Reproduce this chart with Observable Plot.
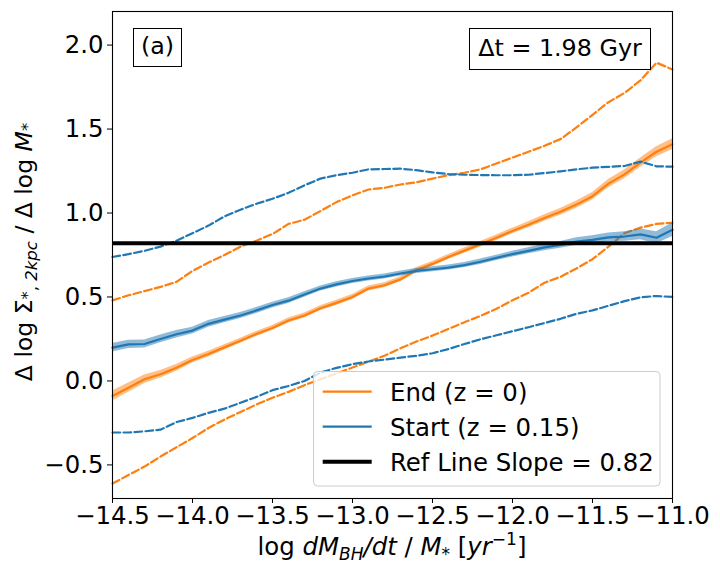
<!DOCTYPE html>
<html>
<head>
<meta charset="utf-8">
<script src="https://cdn.jsdelivr.net/npm/d3@7"></script>
<script src="https://cdn.jsdelivr.net/npm/@observablehq/plot@0.6"></script>
<style>
  html, body { margin: 0; padding: 0; background: #fff; }
  #chart { width: 720px; height: 576px; }
</style>
</head>
<body>
<div id="chart"></div>
<script>
// ---- data ----
const logRate = [-14.5, -14.4, -14.3, -14.2, -14.1, -14.0, -13.9, -13.8, -13.7, -13.6,
                 -13.5, -13.4, -13.3, -13.2, -13.1, -13.0, -12.9, -12.8, -12.7, -12.6,
                 -12.5, -12.4, -12.3, -12.2, -12.1, -12.0, -11.9, -11.8, -11.7, -11.6,
                 -11.5, -11.4, -11.3, -11.2, -11.1, -11.0];

// End (z = 0): median, half-width of shaded band, lower & upper dashed
const endMedian = [-0.09, -0.04, 0.01, 0.04, 0.078, 0.125, 0.16, 0.20, 0.24, 0.28,
                   0.315, 0.36, 0.39, 0.433, 0.465, 0.50, 0.55, 0.57, 0.605, 0.66,
                   0.697, 0.738, 0.776, 0.814, 0.853, 0.893, 0.93, 0.97, 1.007, 1.05,
                   1.10, 1.175, 1.23, 1.30, 1.365, 1.41];
const endErr = [0.03, 0.028, 0.025, 0.022, 0.02, 0.018, 0.017, 0.016, 0.015, 0.015,
                0.015, 0.015, 0.015, 0.015, 0.015, 0.015, 0.015, 0.015, 0.015, 0.015,
                0.015, 0.015, 0.015, 0.016, 0.016, 0.017, 0.018, 0.019, 0.02, 0.021,
                0.022, 0.024, 0.026, 0.028, 0.03, 0.032];
const endLow = [-0.611, -0.56, -0.51, -0.45, -0.395, -0.34, -0.28, -0.23, -0.185, -0.14,
                -0.10, -0.065, -0.025, 0.01, 0.045, 0.08, 0.115, 0.15, 0.195, 0.235,
                0.27, 0.31, 0.35, 0.387, 0.43, 0.48, 0.525, 0.585, 0.62, 0.67,
                0.725, 0.80, 0.88, 0.913, 0.935, 0.942];
const endHigh = [0.48, 0.51, 0.535, 0.56, 0.59, 0.655, 0.705, 0.75, 0.80, 0.835,
                 0.875, 0.935, 0.96, 1.012, 1.065, 1.105, 1.14, 1.15, 1.17, 1.183,
                 1.205, 1.225, 1.24, 1.26, 1.295, 1.33, 1.365, 1.40, 1.44, 1.51,
                 1.585, 1.66, 1.715, 1.79, 1.895, 1.855];

// Start (z = 0.15)
const startMedian = [0.198, 0.218, 0.22, 0.25, 0.278, 0.30, 0.34, 0.365, 0.39, 0.42,
                     0.452, 0.478, 0.515, 0.55, 0.575, 0.595, 0.61, 0.622, 0.64, 0.655,
                     0.665, 0.675, 0.69, 0.71, 0.733, 0.755, 0.775, 0.795, 0.81, 0.83,
                     0.84, 0.855, 0.86, 0.873, 0.853, 0.90];
const startErr = [0.025, 0.025, 0.024, 0.023, 0.022, 0.02, 0.02, 0.019, 0.018, 0.018,
                  0.017, 0.017, 0.016, 0.015, 0.015, 0.015, 0.015, 0.015, 0.015, 0.015,
                  0.015, 0.015, 0.015, 0.016, 0.016, 0.017, 0.018, 0.019, 0.02, 0.022,
                  0.024, 0.026, 0.028, 0.032, 0.036, 0.04];
const startLow = [-0.307, -0.307, -0.30, -0.29, -0.245, -0.22, -0.19, -0.165, -0.13, -0.095,
                  -0.055, -0.03, 0.00, 0.05, 0.078, 0.10, 0.116, 0.127, 0.139, 0.15,
                  0.165, 0.19, 0.22, 0.248, 0.272, 0.296, 0.32, 0.345, 0.37, 0.40,
                  0.42, 0.448, 0.475, 0.498, 0.506, 0.50];
const startHigh = [0.738, 0.755, 0.775, 0.80, 0.835, 0.88, 0.925, 0.98, 1.02, 1.055,
                   1.085, 1.12, 1.165, 1.205, 1.225, 1.24, 1.26, 1.262, 1.264, 1.255,
                   1.242, 1.232, 1.228, 1.226, 1.225, 1.225, 1.228, 1.238, 1.248, 1.26,
                   1.27, 1.275, 1.28, 1.306, 1.278, 1.276];

const refSlope = 0.82;
const xTicks = [-14.5, -14.0, -13.5, -13.0, -12.5, -12.0, -11.5, -11.0];
const yTicks = [-0.5, 0.0, 0.5, 1.0, 1.5, 2.0];
const legendLabels = ["End (z = 0)", "Start (z = 0.15)", "Ref Line Slope = " + refSlope.toFixed(2)];
const panelLabel = "(a)";
const dtLabel = "\u0394t = 1.98 Gyr";

// ---- build table ----
const rows = logRate.map((x, i) => ({
  x,
  end: endMedian[i], endLo: endMedian[i] - endErr[i], endHi: endMedian[i] + endErr[i],
  endP16: endLow[i], endP84: endHigh[i],
  start: startMedian[i], startLo: startMedian[i] - startErr[i], startHi: startMedian[i] + startErr[i],
  startP16: startLow[i], startP84: startHigh[i]
}));

const ORANGE = "#ff7f0e", BLUE = "#1f77b4";
const DASH = "7.7,3.3";
const LW = 2.2;
const FONT = "DejaVu Sans, sans-serif";

const plot = Plot.plot({
  width: 720, height: 576,
  marginLeft: 112, marginRight: 48, marginTop: 11, marginBottom: 78,
  style: {fontFamily: FONT, fontSize: "24.4px", color: "black", background: "white", overflow: "visible"},
  x: {domain: [-14.5, -11.0], label: null},
  y: {domain: [-0.7, 2.2], label: null},
  marks: [
    Plot.areaY(rows, {x: "x", y1: "endLo", y2: "endHi", fill: ORANGE, fillOpacity: 0.5}),
    Plot.lineY(rows, {x: "x", y: "end", stroke: ORANGE, strokeWidth: LW}),
    Plot.lineY(rows, {x: "x", y: "endP16", stroke: ORANGE, strokeWidth: LW, strokeDasharray: DASH}),
    Plot.lineY(rows, {x: "x", y: "endP84", stroke: ORANGE, strokeWidth: LW, strokeDasharray: DASH}),
    Plot.areaY(rows, {x: "x", y1: "startLo", y2: "startHi", fill: BLUE, fillOpacity: 0.5}),
    Plot.lineY(rows, {x: "x", y: "start", stroke: BLUE, strokeWidth: LW}),
    Plot.lineY(rows, {x: "x", y: "startP16", stroke: BLUE, strokeWidth: LW, strokeDasharray: DASH}),
    Plot.lineY(rows, {x: "x", y: "startP84", stroke: BLUE, strokeWidth: LW, strokeDasharray: DASH}),
    Plot.ruleY([refSlope], {stroke: "black", strokeWidth: 4}),
    Plot.frame({stroke: "black", strokeWidth: 1.1}),
    Plot.axisX({ticks: xTicks, tickFormat: d3.format(".1f"), tickSize: 5, tickPadding: 3, label: null}),
    Plot.axisY({ticks: yTicks, tickFormat: d3.format(".1f"), tickSize: 5, tickPadding: 4, label: null})
  ]
});
document.getElementById("chart").appendChild(plot);

// ---- annotations, legend and axis labels ----
const svg = d3.select(plot);
const g = svg.append("g").attr("font-family", FONT).attr("font-size", "24.4px")
  .attr("fill", "black").attr("text-anchor", "start");

// (a) box
g.append("rect").attr("x", 133.5).attr("y", 28.5).attr("width", 48).attr("height", 38)
  .attr("fill", "white").attr("stroke", "black").attr("stroke-width", 1);
g.append("text").attr("x", 157.5).attr("y", 54).attr("font-size", "23.8px")
  .attr("text-anchor", "middle").text(panelLabel);

// Δt box
g.append("rect").attr("x", 469.5).attr("y", 28.5).attr("width", 181).attr("height", 41)
  .attr("fill", "white").attr("stroke", "black").attr("stroke-width", 1);
g.append("text").attr("x", 560).attr("y", 56).attr("font-size", "23.8px")
  .attr("text-anchor", "middle").text(dtLabel);

// legend
g.append("rect").attr("x", 313.5).attr("y", 371.5).attr("width", 346.5).attr("height", 114.5)
  .attr("rx", 4).attr("fill", "white").attr("fill-opacity", 0.8)
  .attr("stroke", "#cccccc").attr("stroke-width", 1);
const legColors = [ORANGE, BLUE, "black"];
const legWidths = [LW, LW, 4];
const legY = [391.7, 426.7, 461.7];
legendLabels.forEach((lab, i) => {
  g.append("line").attr("x1", 322.7).attr("x2", 371.7).attr("y1", legY[i]).attr("y2", legY[i])
    .attr("stroke", legColors[i]).attr("stroke-width", legWidths[i]);
  g.append("text").attr("x", 390).attr("y", legY[i] + 8.8).attr("text-anchor", "start").text(lab);
});

// x-axis label: log dM_BH/dt / M_* [yr^-1]
const xl = g.append("text").attr("x", 392).attr("y", 555).attr("text-anchor", "middle");
xl.append("tspan").text("log ");
xl.append("tspan").attr("font-style", "italic").text("dM");
xl.append("tspan").attr("font-style", "italic").attr("font-size", "17px").attr("dy", 5).text("BH");
xl.append("tspan").attr("font-style", "italic").attr("dy", -5).text("/dt");
xl.append("tspan").text(" / ");
xl.append("tspan").attr("font-style", "italic").text("M");
xl.append("tspan").attr("font-size", "17px").attr("dy", 5).text("*");
xl.append("tspan").attr("dy", -5).text(" [");
xl.append("tspan").attr("font-style", "italic").text("yr");
xl.append("tspan").attr("font-size", "17px").attr("dy", -10).text("\u22121");
xl.append("tspan").attr("dy", 10).text("]");

// y-axis label: Δ log Σ_{*,2kpc} / Δ log M_*
const yl = g.append("text").attr("transform", "translate(32,252) rotate(-90)")
  .attr("font-size", "23.5px").attr("text-anchor", "middle");
yl.append("tspan").text("\u0394 log \u03A3");
yl.append("tspan").attr("font-size", "16.5px").attr("dy", 1).text("*");
yl.append("tspan").attr("font-size", "16.5px").attr("dy", 4).text(", ");
yl.append("tspan").attr("font-size", "16.5px").attr("font-style", "italic").text("2kpc");
yl.append("tspan").attr("dy", -5).text(" / \u0394 log ");
yl.append("tspan").attr("font-style", "italic").text("M");
yl.append("tspan").attr("font-size", "16.5px").attr("dy", 1).text("*");
</script>
</body>
</html>
